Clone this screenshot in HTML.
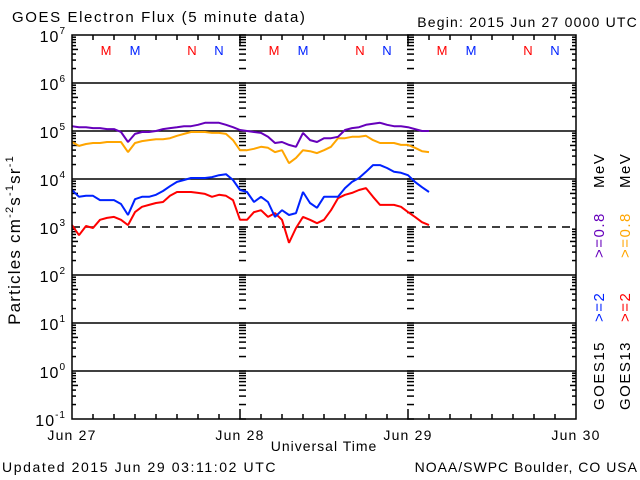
<!DOCTYPE html>
<html><head><meta charset="utf-8"><style>
body{margin:0;background:#fff;width:640px;height:480px;overflow:hidden}
svg{display:block;font-family:"Liberation Sans",sans-serif}
</style></head><body>
<svg id="chart" width="640" height="480" viewBox="0 0 640 480">
<text x="12" y="22" font-size="15" letter-spacing="1.6">GOES Electron Flux (5 minute data)</text>
<text x="638" y="27" font-size="14" letter-spacing="1.2" text-anchor="end">Begin: 2015 Jun 27 0000 UTC</text>
<g id="grid"></g>
<g id="axes"></g>
<g id="series"></g>
<rect x="72" y="35" width="504" height="384" fill="none" stroke="#000" stroke-width="1.5"/>
<text transform="translate(20,240) rotate(-90)" font-size="17" letter-spacing="1.2" text-anchor="middle">Particles cm<tspan font-size="11" dy="-7">-2</tspan><tspan dy="7">s</tspan><tspan font-size="11" dy="-7">-1</tspan><tspan dy="7">sr</tspan><tspan font-size="11" dy="-7">-1</tspan></text>
<text x="324" y="451" font-size="14" letter-spacing="1" text-anchor="middle">Universal Time</text>
<text x="2" y="472" font-size="14" letter-spacing="1.6">Updated 2015 Jun 29 03:11:02 UTC</text>
<text x="638" y="472" font-size="14" letter-spacing="1" text-anchor="end">NOAA/SWPC Boulder, CO USA</text>
<g font-size="15" letter-spacing="1.5">
<text transform="translate(604,410) rotate(-90)" fill="#000">GOES15</text>
<text transform="translate(604,322) rotate(-90)" fill="#0022ff">&gt;=2</text>
<text transform="translate(604,258) rotate(-90)" fill="#6600bb">&gt;=0.8</text>
<text transform="translate(604,188) rotate(-90)" fill="#000">MeV</text>
<text transform="translate(630,410) rotate(-90)" fill="#000">GOES13</text>
<text transform="translate(630,322) rotate(-90)" fill="#ff0000">&gt;=2</text>
<text transform="translate(630,258) rotate(-90)" fill="#ffa500">&gt;=0.8</text>
<text transform="translate(630,188) rotate(-90)" fill="#000">MeV</text>
</g>
</svg>
<script>
const hours=[0,1,2,3,4,5,6,7,8,9,10,11,12,13,14,15,16,17,18,19,20,21,22,23,24,25,26,27,28,29,30,31,32,33,34,35,36,37,38,39,40,41,42,43,44,45,46,47,48,49,50,51];
const g15_08=[5.10,5.08,5.08,5.06,5.06,5.04,5.04,4.98,4.77,4.94,4.98,4.98,5.00,5.04,5.06,5.08,5.10,5.10,5.13,5.17,5.17,5.17,5.13,5.08,5.02,5.00,4.98,4.96,4.88,4.75,4.77,4.71,4.67,4.96,4.81,4.77,4.85,4.85,4.88,5.02,5.06,5.08,5.13,5.15,5.17,5.13,5.10,5.10,5.08,5.04,5.00,5.00];
const g13_08=[4.77,4.69,4.73,4.75,4.75,4.77,4.77,4.77,4.56,4.75,4.79,4.81,4.83,4.83,4.85,4.90,4.94,4.98,4.98,4.98,4.96,4.96,4.94,4.81,4.60,4.60,4.63,4.67,4.65,4.56,4.60,4.33,4.44,4.60,4.58,4.54,4.60,4.67,4.85,4.85,4.88,4.88,4.90,4.81,4.75,4.75,4.75,4.71,4.71,4.65,4.58,4.56];
const g15_2=[3.77,3.63,3.65,3.65,3.56,3.56,3.56,3.48,3.25,3.58,3.63,3.63,3.67,3.75,3.85,3.94,3.98,4.02,4.02,4.02,4.04,4.08,4.10,3.98,3.77,3.73,3.52,3.63,3.52,3.21,3.35,3.25,3.29,3.73,3.50,3.40,3.63,3.63,3.63,3.81,3.94,4.02,4.15,4.29,4.29,4.23,4.15,4.13,4.08,3.94,3.83,3.73];
const g13_2=[3.04,2.83,3.02,2.98,3.15,3.19,3.21,3.15,3.04,3.31,3.42,3.46,3.50,3.52,3.65,3.73,3.73,3.73,3.71,3.69,3.63,3.67,3.65,3.56,3.15,3.15,3.31,3.35,3.21,3.29,3.15,2.67,2.98,3.21,3.15,3.08,3.15,3.35,3.60,3.67,3.71,3.77,3.81,3.63,3.46,3.46,3.46,3.42,3.31,3.21,3.10,3.04];
const decades=[-1,0,1,2,3,4,5,6,7];
const dayLabels=["Jun 27","Jun 28","Jun 29","Jun 30"];
const X0=72,X1=576,Y0=419,Y1=35;
const xs=h=>X0+(h/72)*(X1-X0);
const ys=l=>Y0-((l+1)/8)*(Y0-Y1);
const NS="http://www.w3.org/2000/svg";
function mk(tag,attrs,parent){const e=document.createElementNS(NS,tag);for(const k in attrs)e.setAttribute(k,attrs[k]);parent.appendChild(e);return e;}
const grid=document.getElementById('grid'),axes=document.getElementById('axes'),ser=document.getElementById('series');
decades.forEach(d=>{
  const y=ys(d);
  if(d>-1&&d<7){
    const ln=mk('line',{x1:X0,x2:X1,y1:y,y2:y,stroke:'#000','stroke-width':1.5},grid);
    if(d===3)ln.setAttribute('stroke-dasharray','8,6');
    
    
  }
  const t=mk('text',{x:66,y:y+7,'font-size':16,'text-anchor':'end','letter-spacing':1},axes);
  t.innerHTML='10<tspan font-size="10" dy="-8">'+d+'</tspan>';
  
  
  if(d<7){for(let m=2;m<=9;m++){
    const yy=ys(d+Math.log10(m)); const len=m===5?6:4;
    [[X0,X0+len],[X1-len,X1],[239,246],[407,414]].forEach(p=>{
      const tk=mk('line',{x1:p[0],x2:p[1],y1:yy,y2:yy,stroke:'#000','stroke-width':1.5},axes);
      
      
    });
  }}
  [[239,246],[407,414]].forEach(p=>{
    const tk=mk('line',{x1:p[0],x2:p[1],y1:y,y2:y,stroke:'#000','stroke-width':1.5},axes);
    
    
  });
});
for(let h=3;h<72;h+=3){
  const x=xs(h),len=h%24===0?10:5;
  [[Y0,Y0-len],[Y1,Y1+len]].forEach(p=>{
    const tk=mk('line',{x1:x,x2:x,y1:p[0],y2:p[1],stroke:'#000','stroke-width':1.5},axes);
    
    
  });
}
dayLabels.forEach((lab,i)=>{
  const t=mk('text',{x:xs(i*24),y:440,'font-size':14,'text-anchor':'middle','letter-spacing':1.2},axes);
  t.textContent=lab;
  
  
});
for(let day=0;day<3;day++){
  [['M',34,'#ff0000'],['M',63,'#0022ff'],['N',120,'#ff0000'],['N',147,'#0022ff']].forEach(m=>{
    const t=mk('text',{x:X0+day*168+m[1],y:55,'font-size':13,'text-anchor':'middle',fill:m[2]},axes);
    t.textContent=m[0];
    
    
  });
}
[[g13_2,'#ff0000','series-goes13-2mev'],[g15_2,'#0022ff','series-goes15-2mev'],[g13_08,'#ffa500','series-goes13-0.8mev'],[g15_08,'#6600bb','series-goes15-0.8mev']].forEach(s=>{
  const pts=hours.map((h,i)=>xs(h).toFixed(1)+','+ys(s[0][i]).toFixed(1)).join(' ');
  const pl=mk('polyline',{points:pts,fill:'none',stroke:s[1],'stroke-width':2,'stroke-linejoin':'bevel'},ser);
  
  
});
</script>
</body></html>
